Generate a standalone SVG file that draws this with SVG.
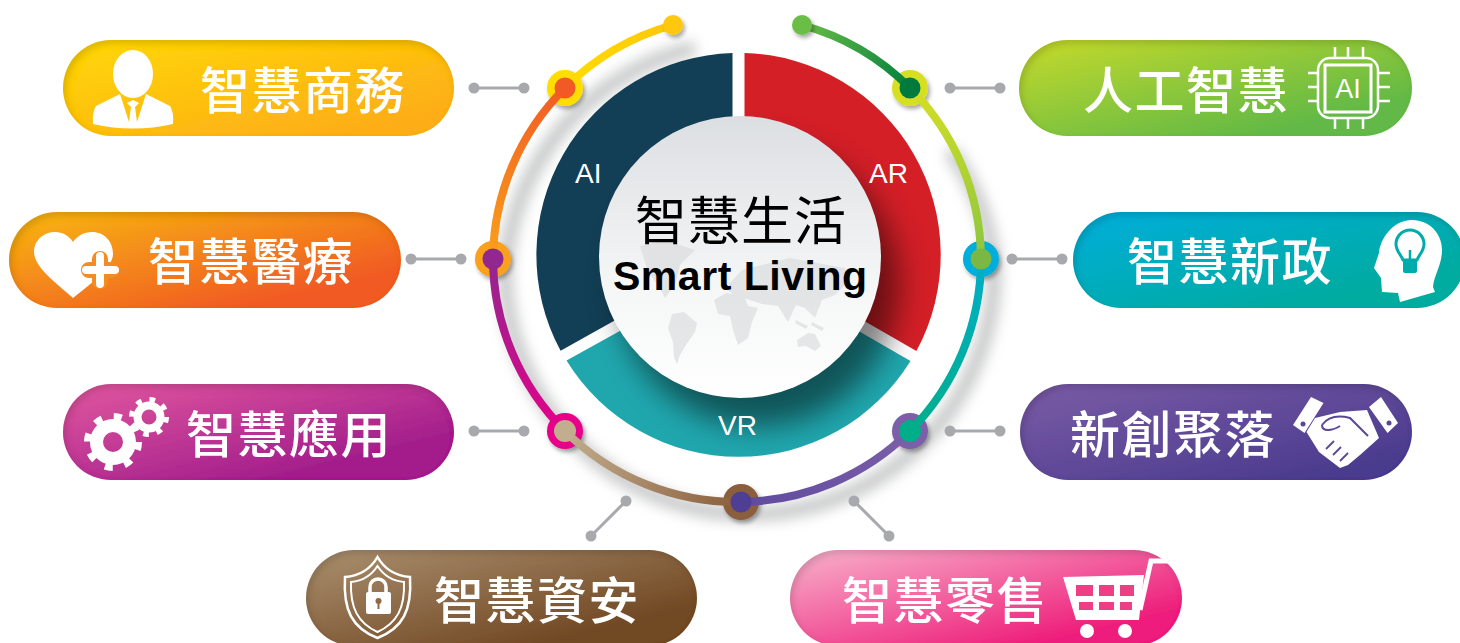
<svg xmlns="http://www.w3.org/2000/svg" width="1460" height="643" viewBox="0 0 1460 643">
<style>
.cjk{font-family:"Noto Sans CJK TC","Noto Sans CJK SC",sans-serif;}
.t{font-size:50px;font-weight:500;letter-spacing:1.5px;fill:#fff;}
.lat{font-family:"Liberation Sans",Arial,sans-serif;}
.seg{font-size:28px;fill:#fff;}
.w{fill:#fff;}
.arc{fill:none;stroke-width:8;stroke-linecap:round;}
.conn line{stroke:#a7a9ac;stroke-width:3;}
.conn circle{fill:#a7a9ac;r:5.5px;}
</style>
<defs>
<filter id="inner" x="-5%" y="-10%" width="110%" height="120%">
<feOffset in="SourceAlpha" dx="3" dy="4" result="o"/>
<feGaussianBlur in="o" stdDeviation="3" result="b"/>
<feComposite in="SourceAlpha" in2="b" operator="out" result="inv"/>
<feFlood flood-color="#000" flood-opacity="0.28"/>
<feComposite in2="inv" operator="in" result="s"/>
<feMerge><feMergeNode in="SourceGraphic"/><feMergeNode in="s"/></feMerge>
</filter>
<filter id="blur6" x="-20%" y="-20%" width="140%" height="140%"><feGaussianBlur stdDeviation="7"/></filter>
<filter id="blur16" x="-30%" y="-30%" width="160%" height="160%"><feGaussianBlur stdDeviation="15"/></filter>
<filter id="ds" x="-40%" y="-40%" width="180%" height="180%"><feDropShadow dx="2" dy="3" stdDeviation="2" flood-color="#000" flood-opacity=".35"/></filter>
<clipPath id="disc"><circle cx="738.5" cy="255" r="204"/></clipPath>
<linearGradient id="p1" x1="0" y1="0" x2="1" y2="1"><stop offset="0" stop-color="#ffd805"/><stop offset=".85" stop-color="#fdae17"/></linearGradient>
<linearGradient id="p2" x1="0" y1="0" x2="1" y2="1"><stop offset="0" stop-color="#f8b814"/><stop offset=".8" stop-color="#f15a22"/></linearGradient>
<linearGradient id="p3" x1="0" y1="0" x2="1" y2="1"><stop offset="0" stop-color="#e2589f"/><stop offset=".75" stop-color="#a41f8c"/></linearGradient>
<linearGradient id="p4" x1="0" y1="0" x2="1" y2="1"><stop offset="0" stop-color="#ab9070"/><stop offset=".8" stop-color="#714823"/></linearGradient>
<linearGradient id="p5" x1="0" y1="0" x2="1" y2="1"><stop offset="0" stop-color="#c6da2b"/><stop offset=".8" stop-color="#62b946"/></linearGradient>
<linearGradient id="p6" x1="0" y1="0" x2="1" y2="1"><stop offset="0" stop-color="#00aedb"/><stop offset=".8" stop-color="#00ab9f"/></linearGradient>
<linearGradient id="p7" x1="0" y1="0" x2="1" y2="1"><stop offset="0" stop-color="#7b5ca6"/><stop offset=".9" stop-color="#493a8d"/></linearGradient>
<linearGradient id="p8" x1="0" y1="0" x2="1" y2="1"><stop offset="0" stop-color="#f8b2cb"/><stop offset=".8" stop-color="#ee1f7b"/></linearGradient>
<linearGradient id="core" x1="0" y1="0" x2="0" y2="1"><stop offset="0" stop-color="#dcdfe2"/><stop offset=".6" stop-color="#f5f6f6"/><stop offset="1" stop-color="#fff"/></linearGradient>
<linearGradient id="a1" gradientUnits="userSpaceOnUse" x1="673" y1="25" x2="565" y2="88"><stop offset="0" stop-color="#ffc70b"/><stop offset="1" stop-color="#ffdd00"/></linearGradient>
<linearGradient id="a2" gradientUnits="userSpaceOnUse" x1="565" y1="88" x2="493" y2="259"><stop offset="0" stop-color="#f15a24"/><stop offset="1" stop-color="#f9a01b"/></linearGradient>
<linearGradient id="a3" gradientUnits="userSpaceOnUse" x1="493" y1="259" x2="565" y2="431"><stop offset="0" stop-color="#92278f"/><stop offset="1" stop-color="#e6008a"/></linearGradient>
<linearGradient id="a4" gradientUnits="userSpaceOnUse" x1="565" y1="431" x2="741" y2="502"><stop offset="0" stop-color="#c2ae8e"/><stop offset="1" stop-color="#8b5e3c"/></linearGradient>
<linearGradient id="a5" gradientUnits="userSpaceOnUse" x1="741" y1="502" x2="910" y2="431"><stop offset="0" stop-color="#5f4a9e"/><stop offset="1" stop-color="#7b5fa8"/></linearGradient>
<linearGradient id="a6" gradientUnits="userSpaceOnUse" x1="910" y1="431" x2="981" y2="259"><stop offset="0" stop-color="#00ae8a"/><stop offset="1" stop-color="#00aec8"/></linearGradient>
<linearGradient id="a7" gradientUnits="userSpaceOnUse" x1="981" y1="259" x2="910" y2="88"><stop offset="0" stop-color="#8cc63f"/><stop offset="1" stop-color="#d7df23"/></linearGradient>
<linearGradient id="a8" gradientUnits="userSpaceOnUse" x1="910" y1="88" x2="802" y2="25"><stop offset="0" stop-color="#007f3e"/><stop offset="1" stop-color="#6abd45"/></linearGradient>
</defs>
<rect width="1460" height="643" fill="#fff"/>

<g id="ring-shadow" filter="url(#blur6)" fill="none" stroke="#8a8c8e" stroke-width="14" opacity=".5">
<path d="M695 48 A244 244 0 0 0 505 270 A244 244 0 0 0 745 514 A244 244 0 0 0 994 265 A244 244 0 0 0 950 150"/>
</g>

<g id="donut">
<path d="M732.5 53 A202 202 0 0 0 560.6 350.8 L650 300.7 L732.5 258Z" fill="#123f56"/>
<path d="M744.5 53 A202 202 0 0 1 916.4 351 L866 322 L830 300 L744.5 258Z" fill="#d41f27"/>
<path d="M566.5 360.5 A202 202 0 0 0 910.5 361 L862 333 L738 260 L618 332Z" fill="#20a7ae"/>
<g clip-path="url(#disc)"><circle cx="758" cy="285" r="141" fill="#000" opacity=".5" filter="url(#blur16)"/></g>
</g>

<g id="core">
<circle cx="740" cy="257" r="141" fill="url(#core)"/>
<g fill="#d8d9db" opacity=".6">
<path d="M640 246 L665 240 L695 250 L680 265 L675 285 L665 298 L660 288 L648 272Z"/>
<path d="M672 314 L684 312 L697 323 L695 332 L686 345 L680 355 L677 364 L674 358 L673 342 L668 328Z"/>
<path d="M714 300 L726 293 L744 296 L748 306 L758 308 L752 322 L748 338 L738 345 L733 330 L730 316 L718 314Z"/>
<path d="M725 288 L742 270 L790 258 L845 268 L850 280 L835 295 L822 300 L815 318 L805 308 L796 305 L788 322 L778 306 L762 304 L750 300 L735 296Z"/>
<path d="M797 340 L808 333 L815 334 L821 346 L815 351 L806 346 L798 347Z"/>
<path d="M796 320 L808 326 L806 329 L795 323Z M812 322 L824 328 L822 331 L811 325Z"/>
</g>
<text class="cjk" x="635" y="240" font-size="52" font-weight="400" letter-spacing="1" fill="#000">智慧生活</text>
<text class="lat" x="613" y="290" font-size="41" font-weight="700" fill="#000" textLength="254">Smart Living</text>
</g>
<text class="lat seg" x="575" y="183">AI</text>
<text class="lat seg" x="869" y="183">AR</text>
<text class="lat seg" x="718" y="435">VR</text>

<g id="hub-discs" filter="url(#ds)">
<circle cx="565" cy="88" r="18" fill="#ffdd00"/>
<circle cx="910" cy="88" r="18" fill="#d7df23"/>
<circle cx="493" cy="259" r="18" fill="#f9a01b"/>
<circle cx="981" cy="259" r="18" fill="#00aedb"/>
<circle cx="565" cy="431" r="18" fill="#e6008a"/>
<circle cx="910" cy="431" r="18" fill="#7b5fa8"/>
<circle cx="741" cy="502" r="18" fill="#8b5e3c"/>
</g>
<g id="ring-arcs">
<path class="arc" stroke="url(#a1)" d="M565 88 A244 244 0 0 1 673 25"/>
<path class="arc" stroke="url(#a2)" d="M493 259 A244 244 0 0 1 565 88"/>
<path class="arc" stroke="url(#a3)" d="M565 431 A244 244 0 0 1 493 259"/>
<path class="arc" stroke="url(#a4)" d="M741 502 A244 244 0 0 1 565 431"/>
<path class="arc" stroke="url(#a5)" d="M910 431 A244 244 0 0 1 741 502"/>
<path class="arc" stroke="url(#a6)" d="M981 259 A244 244 0 0 1 910 431"/>
<path class="arc" stroke="url(#a7)" d="M910 88 A244 244 0 0 1 981 259"/>
<path class="arc" stroke="url(#a8)" d="M802 25 A244 244 0 0 1 910 88"/>
<circle cx="673" cy="25" r="10" fill="#ffc70b" filter="url(#ds)"/>
<circle cx="802" cy="25" r="10" fill="#6abd45" filter="url(#ds)"/>
</g>
<g id="hub-dots">
<circle cx="565" cy="88" r="10.5" fill="#f15a24"/>
<circle cx="910" cy="88" r="10.5" fill="#007a3d"/>
<circle cx="493" cy="259" r="10.5" fill="#92278f"/>
<circle cx="981" cy="259" r="10.5" fill="#7ab743"/>
<circle cx="565" cy="431" r="11" fill="#c2ae8e"/>
<circle cx="910" cy="431" r="11" fill="#00ae8a"/>
<circle cx="741" cy="502" r="10.5" fill="#4e3f94"/>
</g>

<g id="connectors" class="conn">
<line x1="474" y1="88" x2="524" y2="88"/><circle cx="474" cy="88"/><circle cx="524" cy="88"/>
<line x1="950" y1="88" x2="1000" y2="88"/><circle cx="950" cy="88"/><circle cx="1000" cy="88"/>
<line x1="411" y1="259" x2="461" y2="259"/><circle cx="411" cy="259"/><circle cx="461" cy="259"/>
<line x1="1012" y1="259" x2="1062" y2="259"/><circle cx="1012" cy="259"/><circle cx="1062" cy="259"/>
<line x1="474" y1="431" x2="524" y2="431"/><circle cx="474" cy="431"/><circle cx="524" cy="431"/>
<line x1="950" y1="431" x2="1000" y2="431"/><circle cx="950" cy="431"/><circle cx="1000" cy="431"/>
<line x1="591" y1="536" x2="626" y2="501"/><circle cx="591" cy="536"/><circle cx="626" cy="501"/>
<line x1="854" y1="501" x2="889" y2="536"/><circle cx="854" cy="501"/><circle cx="889" cy="536"/>
</g>

<g id="node-business">
<rect x="63" y="40" width="391" height="96" rx="48" fill="url(#p1)" filter="url(#inner)"/>
<ellipse class="w" cx="133" cy="74" rx="20" ry="24"/>
<path class="w" d="M93 124 Q92 112 96 106 L120 94 L129 122 L131 107 L127 103 L133 100 L139 103 L135 107 L137 122 L146 94 L170 106 Q174 112 173 124 Q133 133 93 124Z"/>
<text class="cjk t" x="200" y="109">智慧商務</text>
</g>

<g id="node-health">
<rect x="9" y="212" width="392" height="96" rx="48" fill="url(#p2)" filter="url(#inner)"/>
<path class="w" d="M73 298 C60 286 34 268 34 252 C34 240 44 232 55 232 C63 232 69 236 73 242 C77 236 84 232 92 232 C104 232 113 241 113 254 C113 268 88 286 73 298Z"/>
<path d="M100 259 V281 M89 270 H111" fill="none" stroke="#f78a20" stroke-width="16" stroke-linecap="round"/>
<path d="M100 256 V284 M86 270 H115" fill="none" stroke="#fff" stroke-width="8" stroke-linecap="round"/>
<text class="cjk t" x="148" y="280">智慧醫療</text>
</g>

<g id="node-apps">
<rect x="63" y="384" width="391" height="96" rx="48" fill="url(#p3)" filter="url(#inner)"/>
<circle cx="113" cy="442" r="16.5" fill="none" stroke="#fff" stroke-width="13"/>
<circle cx="113" cy="442" r="25.5" fill="none" stroke="#fff" stroke-width="7" stroke-dasharray="8 12.03"/>
<circle cx="149" cy="417" r="11.5" fill="none" stroke="#fff" stroke-width="8"/>
<circle cx="149" cy="417" r="17" fill="none" stroke="#fff" stroke-width="6" stroke-dasharray="5.5 7.85"/>
<text class="cjk t" x="186" y="453">智慧應用</text>
</g>

<g id="node-security">
<rect x="306" y="550" width="391" height="96" rx="48" fill="url(#p4)" filter="url(#inner)"/>
<path d="M377.5 557 C370 570 358 576 345 577 C343 610 352 628 377.5 638 C403 628 412 610 410 577 C397 576 385 570 377.5 557Z" fill="none" stroke="#fff" stroke-width="2.5"/>
<path d="M377.5 566 C371 576 362 581 351 582 C350 608 358 623 377.5 632 C397 623 405 608 404 582 C393 581 384 576 377.5 566Z" fill="none" stroke="#fff" stroke-width="2"/>
<path d="M370 593 V587 A8 8 0 0 1 386 587 V593" fill="none" stroke="#fff" stroke-width="3.5"/>
<rect class="w" x="366" y="592" width="25" height="22" rx="2"/>
<circle cx="378.5" cy="601" r="3" fill="#8c6a45"/><rect x="377.5" y="602" width="2" height="7" fill="#8c6a45"/>
<text class="cjk t" x="434" y="619">智慧資安</text>
</g>

<g id="node-ai">
<rect x="1019" y="40" width="393" height="96" rx="48" fill="url(#p5)" filter="url(#inner)"/>
<text class="cjk t" x="1083" y="109">人工智慧</text>
<rect x="1318" y="58" width="60" height="60" rx="12" fill="none" stroke="#fff" stroke-width="2.5"/>
<rect x="1325" y="65" width="46" height="47" fill="none" stroke="#fff" stroke-width="3"/>
<path d="M1335 47V58M1348 47V58M1363 47V58M1335 118V129M1348 118V129M1363 118V129M1308 73H1318M1308 87H1318M1308 101H1318M1378 73H1390M1378 87H1390M1378 101H1390" fill="none" stroke="#fff" stroke-width="2.5"/>
<text class="lat" x="1348" y="98" font-size="27" fill="#fff" text-anchor="middle">AI</text>
</g>

<g id="node-gov">
<rect x="1073" y="212" width="392" height="96" rx="48" fill="url(#p6)" filter="url(#inner)"/>
<text class="cjk t" x="1127" y="280">智慧新政</text>
<path class="w" d="M1412 220 C1430 220 1442 234 1442 250 C1442 265 1434 275 1433 287 L1435 292 L1400 302 L1398 293 L1382 292 L1381 278 L1374 268 L1379 253 C1380 240 1392 220 1412 220Z"/>
<path d="M1403 260 C1400 253 1396 251 1396 244 A14 14 0 0 1 1424 244 C1424 251 1420 253 1417 260Z" fill="#fff" stroke="#00abac" stroke-width="3"/>
<rect x="1403" y="260" width="14" height="13" rx="2" fill="#00abac"/>
<path d="M1410 262V250" stroke="#00abac" stroke-width="2.5"/>
</g>

<g id="node-startup">
<rect x="1020" y="384" width="392" height="96" rx="48" fill="url(#p7)" filter="url(#inner)"/>
<text class="cjk t" x="1070" y="453">新創聚落</text>
<path class="w" d="M1311 397 L1323.5 403 L1304.5 433 L1293 425Z M1381 397 L1398 423 L1387.5 433 L1369 407Z"/>
<circle cx="1303" cy="424" r="2.5" fill="#5a4796"/><circle cx="1389" cy="423" r="2.5" fill="#5a4796"/>
<path class="w" d="M1315 418 L1340 412 L1367 410 L1379 438 L1360 455 L1348 465 L1340 468 L1319 452 L1306.5 432Z"/>
<path d="M1322 425 C1330 414 1342 416 1350 418 L1368 436 M1322 425 C1322 432 1332 431 1340 426" fill="none" stroke="#5a4796" stroke-width="2"/>
<path d="M1326 449 L1334 441 M1333 455 L1341 447 M1340 461 L1348 453" fill="none" stroke="#5a4796" stroke-width="1.8"/>
</g>

<g id="node-retail">
<rect x="790" y="550" width="392" height="96" rx="48" fill="url(#p8)" filter="url(#inner)"/>
<text class="cjk t" x="842" y="619">智慧零售</text>
<path class="w" d="M1063 577 L1144 575 L1139 620 L1076 620Z"/>
<path d="M1140 610 L1151 561 L1170 561" fill="none" stroke="#fff" stroke-width="5"/>
<g fill="#ec3f84">
<rect x="1076" y="585" width="17" height="11"/><rect x="1099" y="585" width="15" height="11"/><rect x="1120" y="585" width="14" height="11"/>
<rect x="1079" y="602" width="14" height="8"/><rect x="1099" y="602" width="15" height="8"/><rect x="1120" y="602" width="12" height="8"/>
</g>
<circle class="w" cx="1087" cy="631" r="7"/><circle class="w" cx="1125" cy="631" r="7"/>
</g>
</svg>
